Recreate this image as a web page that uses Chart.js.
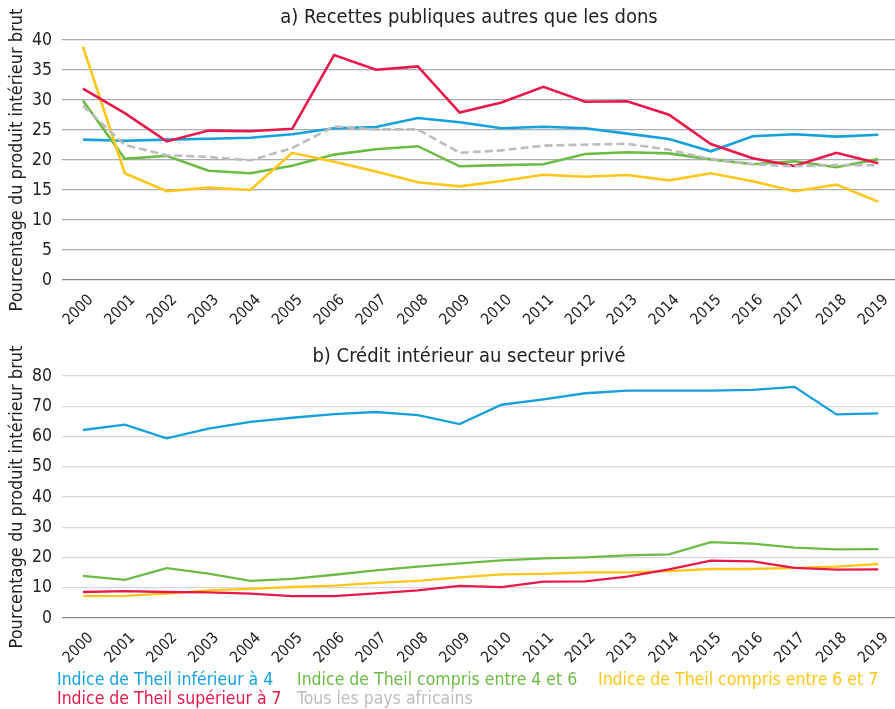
<!DOCTYPE html>
<html>
<head>
<meta charset="utf-8">
<script src="https://cdn.jsdelivr.net/npm/chart.js@4.4.1/dist/chart.umd.min.js"></script>
<style>
  html, body { margin: 0; padding: 0; background: #fff; overflow: hidden; }
  #wrap { position: relative; width: 895px; height: 709px; }
  canvas { position: absolute; left: 0; }
  .title { position: absolute; left: 44px; width: 850px; text-align: center; color: #222;
           font: 20px "DejaVu Sans Condensed", sans-serif; line-height: 24px; }
  #legend { position: absolute; left: 57px; top: 670px; width: 838px;
            font: 17.5px "DejaVu Sans Condensed", sans-serif; line-height: 19px; }
  #legend span { position: absolute; white-space: nowrap; }
</style>
</head>
<body>
<div id="wrap">
  <canvas id="topChart" width="895" height="340" style="top:0"></canvas>
  <canvas id="bottomChart" width="895" height="340" style="top:340px"></canvas>
  <div class="title" id="topTitle" style="top:4px"></div>
  <div class="title" id="bottomTitle" style="top:343px"></div>
  <div id="legend"></div>
</div>
<script>
const years = ['2000','2001','2002','2003','2004','2005','2006','2007','2008','2009',
               '2010','2011','2012','2013','2014','2015','2016','2017','2018','2019'];

const seriesNames = ['Indice de Theil inférieur à 4', 'Indice de Theil compris entre 4 et 6',
                     'Indice de Theil compris entre 6 et 7', 'Indice de Theil supérieur à 7',
                     'Tous les pays africains'];
const seriesColors = ['#16a0dc', '#6cbb45', '#ffc61a', '#e8194a', '#bdbdbd'];

// a) Recettes publiques autres que les dons (% du PIB)
const recettesT1 = [23.4, 23.2, 23.4, 23.55, 23.7, 24.3, 25.3, 25.5, 27.0, 26.3, 25.3, 25.55, 25.3, 24.4, 23.5, 21.45, 23.95, 24.3, 23.9, 24.2];
const recettesT2 = [29.9, 20.2, 20.7, 18.2, 17.8, 19.05, 20.9, 21.8, 22.3, 18.95, 19.15, 19.3, 21.0, 21.3, 21.1, 20.1, 19.3, 19.8, 18.8, 20.15];
const recettesT3 = [38.9, 17.8, 14.8, 15.4, 15.0, 21.2, 19.7, 18.1, 16.3, 15.6, 16.5, 17.55, 17.2, 17.5, 16.6, 17.8, 16.45, 14.8, 15.9, 13.05];
const recettesT4 = [31.9, 27.8, 23.1, 24.9, 24.8, 25.2, 37.5, 35.05, 35.6, 27.9, 29.6, 32.2, 29.7, 29.8, 27.55, 22.65, 20.3, 19.0, 21.2, 19.45];
const recettesAll = [29.05, 22.5, 20.8, 20.5, 19.95, 22.0, 25.6, 25.1, 25.1, 21.2, 21.6, 22.4, 22.55, 22.7, 21.7, 20.15, 19.3, 18.95, 19.15, 19.15];

// b) Crédit intérieur au secteur privé (% du PIB)
const creditT1 = [62.15, 63.9, 59.4, 62.6, 64.8, 66.2, 67.4, 68.1, 67.1, 64.1, 70.5, 72.3, 74.3, 75.15, 75.15, 75.15, 75.4, 76.4, 67.3, 67.65];
const creditT2 = [13.9, 12.6, 16.5, 14.65, 12.3, 12.9, 14.3, 15.75, 17.0, 18.05, 19.05, 19.7, 20.05, 20.7, 21.05, 25.1, 24.6, 23.25, 22.7, 22.8];
const creditT3 = [7.2, 7.3, 8.05, 9.15, 9.6, 10.25, 10.7, 11.6, 12.3, 13.4, 14.4, 14.6, 15.1, 15.1, 15.5, 16.2, 16.2, 16.6, 17.0, 17.85];
const creditT4 = [8.6, 8.9, 8.6, 8.5, 8.05, 7.2, 7.2, 8.15, 9.15, 10.6, 10.2, 12.0, 12.1, 13.7, 16.1, 18.95, 18.75, 16.6, 16.0, 16.1];

const yTitle = 'Pourcentage du produit intérieur brut';
const fontFam = '"DejaVu Sans Condensed", sans-serif';

function toPoints(values) {
  return values.map((v, i) => ({ x: i, y: v }));
}

function makeDatasets(list, width) {
  return list.map((values, k) => ({
    label: seriesNames[k],
    data: toPoints(values),
    borderColor: seriesColors[k],
    backgroundColor: seriesColors[k],
    borderWidth: width,
    borderDash: k === 4 ? [8, 4] : [],
    pointRadius: 0,
    tension: 0,
    order: k === 4 ? 0 : 4 - k
  }));
}

function renderPanel(id, titleId, title, yMax, datasets, gridColor, padTop, padBottom) {
  document.getElementById(titleId).textContent = title;
  new Chart(document.getElementById(id), {
    type: 'line',
    data: { datasets: datasets },
    options: {
      responsive: false,
      animation: false,
      layout: { padding: { left: 0, right: 0, top: padTop, bottom: padBottom } },
      plugins: {
        legend: { display: false },
        tooltip: { enabled: false }
      },
      scales: {
        x: {
          type: 'linear',
          min: -0.5,
          max: 19.4,
          afterBuildTicks: (scale) => { scale.ticks = years.map((y, i) => ({ value: i })); },
          afterFit: (scale) => { scale.height = 55; },
          grid: { display: false },
          border: { display: false },
          ticks: {
            autoSkip: false,
            minRotation: 45,
            maxRotation: 45,
            padding: 3,
            labelOffset: 8,
            color: '#222',
            font: { family: fontFam, size: 15.5 },
            callback: (v) => years[v]
          }
        },
        y: {
          min: 0,
          max: yMax,
          afterFit: (scale) => { scale.width = 62; },
          grid: {
            color: (ctx) => ctx.tick.value === 0 ? '#8a8a8a' : gridColor,
            lineWidth: 1.3,
            drawTicks: false
          },
          border: { display: false },
          ticks: {
            stepSize: yMax === 40 ? 5 : 10,
            padding: 10,
            color: '#222',
            font: { family: fontFam, size: 17.5 }
          },
          title: {
            display: true,
            text: yTitle,
            color: '#222',
            font: { family: fontFam, size: 18 },
            padding: { top: 7, bottom: 0 }
          }
        }
      }
    }
  });
}

renderPanel('topChart', 'topTitle', 'a) Recettes publiques autres que les dons', 40,
  makeDatasets([recettesT1, recettesT2, recettesT3, recettesT4, recettesAll], 2.6), '#a9adb2', 40, 5);
renderPanel('bottomChart', 'bottomTitle', 'b) Crédit intérieur au secteur privé', 80,
  makeDatasets([creditT1, creditT2, creditT3, creditT4], 2.3), '#d6d6dc', 36, 7);

// legend, built from the series names and colours
const legendPos = [[0, 0], [240, 0], [541, 0], [0, 19], [240, 19]];
const legend = document.getElementById('legend');
seriesNames.forEach((name, k) => {
  const s = document.createElement('span');
  s.textContent = name;
  s.style.color = seriesColors[k];
  s.style.left = legendPos[k][0] + 'px';
  s.style.top = legendPos[k][1] + 'px';
  legend.appendChild(s);
});
</script>
</body>
</html>
